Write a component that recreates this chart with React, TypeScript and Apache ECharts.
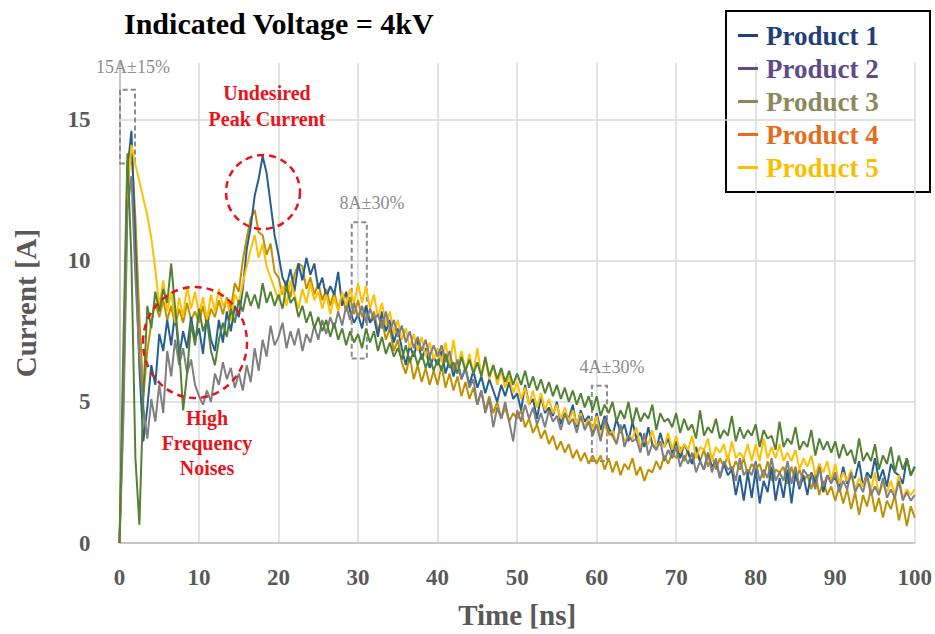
import React, { useEffect, useRef } from "react";
import * as echarts from "echarts";

// Sampling step of the recorded waveforms (ns)
const STEP_NS = 0.5;

const TITLE = "Indicated Voltage = 4kV";
const X_NAME = "Time [ns]";
const Y_NAME = "Current [A]";

const PRODUCTS = ["Product 1", "Product 2", "Product 3", "Product 4", "Product 5"];
const LINE_COLORS = ["#255e91", "#7f7f7f", "#548235", "#bf9000", "#ffc000"];
const LEGEND_COLORS = ["#213f7a", "#5f4b8b", "#8c8a5a", "#e46c1a", "#f5c000"];
const SERIES_Z = [3, 5, 6, 2, 4];

// Current samples [A], one value every STEP_NS from 0 to 100 ns
const PRODUCT_1 = [
  0, 5.5, 13.2, 14.6, 10.5, 6.2, 3.6, 4.8, 6.3, 5.6, 7.4, 6.8, 7.9, 7.0, 8.2, 6.6, 7.5, 6.9, 8.0, 7.2,
  7.6, 6.7, 8.1, 7.2, 6.8, 7.9, 7.1, 8.2, 7.5, 8.4, 8.0, 9.0, 10.4, 11.2, 12.3, 12.9, 13.7, 13.1, 12.0, 10.9,
  10.2, 9.4, 9.1, 9.7, 8.9, 9.9, 9.3, 10.1, 9.5, 9.9, 9.0, 9.4, 8.7, 9.1, 8.8, 9.6, 8.4, 8.9, 8.2, 7.8,
  8.1, 7.6, 8.4, 7.8, 8.0, 7.3, 8.2, 7.5, 7.9, 7.1, 7.6, 6.9, 6.3, 7.0, 6.6, 7.2, 6.5, 6.9, 6.2, 6.6,
  6.3, 6.8, 6.0, 6.5, 5.9, 6.4, 5.8, 6.2, 5.6, 6.1, 5.5, 5.9, 5.3, 5.8, 5.4, 5.0, 5.6, 5.2, 5.7, 5.1,
  5.3, 4.7, 5.6, 4.9, 5.1, 4.4, 5.2, 4.6, 4.8, 4.5, 5.0, 4.2, 4.6, 4.4, 4.9, 4.1, 4.7, 4.3, 4.5, 3.9,
  4.6, 4.0, 4.5, 4.1, 3.8, 4.4, 3.9, 4.2, 3.6, 4.3, 3.7, 3.9, 3.4, 4.1, 3.5, 3.3, 3.9, 3.4, 3.7, 3.2,
  3.6, 3.0, 3.5, 3.2, 2.8, 3.4, 2.9, 2.6, 3.2, 2.7, 2.9, 2.3, 2.8, 2.4, 2.6, 1.7, 2.4, 1.5, 2.5, 1.6,
  2.6, 1.4, 2.2, 1.8, 2.7, 1.5, 2.3, 1.6, 2.6, 1.4, 2.5, 1.9, 2.4, 1.7, 2.5, 2.1, 2.8, 1.8, 2.4, 2.2,
  2.3, 2.0, 2.7, 2.1, 2.4, 2.3, 2.9, 2.0, 2.5, 2.3, 3.0, 2.2, 2.6, 2.0, 2.8, 2.5, 2.4, 2.1, 3.0, 2.4,
  2.7,
];

const PRODUCT_2 = [
  0, 4.5, 11.8, 13.0, 9.4, 6.6, 4.8, 3.7, 5.1, 4.3, 5.6, 4.6, 6.8, 5.9, 7.2, 6.3, 6.9, 6.0, 6.5, 5.6,
  5.2, 4.9, 5.4, 5.0, 6.0, 5.6, 6.4, 5.8, 6.2, 5.5, 6.0, 5.4, 6.3, 5.7, 6.9, 6.1, 7.2, 6.6, 7.7, 7.0,
  7.3, 7.8, 6.9, 7.5, 7.0, 7.6, 6.8, 7.4, 7.1, 7.7, 7.2, 7.9, 7.4, 8.0, 7.6, 8.2, 7.7, 8.4, 7.9, 8.5,
  8.0, 8.4, 7.8, 8.3, 7.9, 8.1, 7.6, 8.2, 7.5, 7.9, 7.3, 7.7, 7.1, 7.5, 6.9, 7.3, 6.8, 7.2, 6.6, 7.0,
  6.6, 7.0, 6.4, 6.8, 6.1, 6.5, 5.8, 6.2, 5.5, 5.8, 4.9, 5.4, 4.6, 5.1, 4.1, 4.8, 4.4, 5.0, 4.3, 3.6,
  4.7, 4.3, 4.9, 4.4, 4.8, 4.2, 4.6, 4.1, 4.7, 4.3, 4.5, 4.0, 4.6, 4.2, 4.4, 3.9, 4.5, 4.0, 4.3, 3.8,
  4.2, 3.6, 4.4, 3.9, 3.8, 3.5, 4.2, 3.4, 3.8, 3.6, 3.7, 3.2, 3.9, 3.1, 3.5, 3.3, 3.6, 2.9, 3.3, 3.0,
  3.4, 2.7, 3.1, 2.8, 3.2, 2.5, 2.9, 2.6, 3.2, 2.5, 3.0, 2.3, 2.9, 2.6, 2.7, 2.2, 3.0, 2.4, 2.6, 2.4,
  2.9, 2.2, 2.6, 2.3, 3.0, 2.2, 2.5, 2.2, 2.9, 2.1, 2.7, 2.0, 2.6, 2.4, 2.4, 1.9, 2.7, 2.0, 2.4, 2.1,
  2.5, 1.8, 2.2, 1.9, 2.5, 1.8, 2.1, 1.8, 2.4, 1.7, 2.0, 1.7, 2.3, 1.6, 1.9, 1.6, 2.2, 1.5, 1.8, 1.5,
  1.7,
];

const PRODUCT_3 = [
  0, 7.2, 13.8, 10.0, 3.0, 0.65, 5.2, 8.4, 7.6, 8.9, 8.2, 9.0, 8.5, 9.9, 8.3, 6.9, 4.7, 6.0, 7.8, 7.0,
  8.3, 7.5, 7.9, 6.8, 6.3, 7.2, 7.8, 7.3, 8.3, 7.8, 8.6, 8.2, 8.9, 8.4, 8.8, 8.3, 9.2, 8.5, 8.9, 8.4,
  8.8, 8.3, 9.1, 8.5, 8.7, 8.0, 8.4, 7.8, 8.2, 7.6, 8.0, 7.5, 7.9, 7.3, 7.8, 7.2, 7.6, 7.0, 7.5, 7.1,
  7.4, 6.9, 7.6, 7.1, 7.5, 6.8, 7.3, 6.7, 7.1, 6.6, 6.9, 6.5, 7.0, 6.4, 6.8, 6.3, 6.7, 6.2, 6.6, 6.1,
  6.5, 6.1, 6.7, 6.2, 6.4, 6.0, 6.6, 6.1, 6.5, 6.0, 6.4, 5.9, 6.6, 5.9, 6.3, 5.8, 6.2, 5.7, 6.1, 5.6,
  6.0, 5.6, 6.1, 5.5, 5.9, 5.4, 5.8, 5.3, 5.7, 5.2, 5.6, 5.1, 5.5, 5.0, 5.4, 4.9, 5.3, 4.8, 5.2, 4.7,
  5.2, 4.5, 4.9, 4.6, 5.0, 4.3, 4.7, 4.4, 5.0, 4.2, 4.8, 4.3, 4.6, 4.4, 4.9, 4.0, 4.6, 4.3, 4.4, 4.1,
  4.6, 3.9, 4.4, 4.0, 4.2, 3.7, 4.7, 3.8, 4.1, 3.9, 4.4, 3.7, 4.0, 3.8, 4.5, 3.6, 4.1, 3.7, 4.0, 3.8,
  4.2, 3.4, 4.0, 3.7, 3.8, 3.3, 4.3, 3.4, 3.7, 3.5, 4.1, 3.3, 3.6, 3.4, 4.0, 3.1, 3.7, 3.3, 3.6, 3.2,
  3.6, 3.0, 3.5, 3.1, 3.3, 2.8, 3.7, 2.9, 3.2, 2.9, 3.5, 2.6, 3.1, 2.8, 3.4, 2.5, 3.1, 2.6, 3.0, 2.4,
  2.7,
];

const PRODUCT_4 = [
  0, 6.0, 13.5, 14.1, 11.5, 8.0, 5.2, 6.8, 7.8, 8.5, 8.0, 8.6, 7.9, 8.4, 7.7, 8.3, 7.8, 8.5, 7.9, 8.2,
  7.8, 8.4, 7.7, 8.3, 8.0, 8.6, 8.1, 8.7, 8.3, 9.2, 8.9, 10.0, 10.8, 11.5, 11.8, 11.0, 10.9, 10.2, 10.6, 9.6,
  9.4, 8.8, 9.3, 8.7, 9.5, 9.9, 9.8, 9.0, 9.4, 8.8, 9.2, 8.6, 9.0, 8.4, 8.9, 8.3, 8.8, 8.2, 8.7, 8.1,
  8.6, 8.0, 8.4, 7.8, 8.2, 7.5, 7.9, 7.2, 7.6, 6.8, 7.2, 6.4, 6.0, 6.6, 5.8, 6.3, 5.7, 6.2, 5.6, 6.1,
  5.6, 6.3, 5.5, 6.0, 5.4, 5.9, 5.2, 5.7, 5.1, 5.5, 4.9, 5.4, 4.7, 5.2, 4.6, 5.0, 4.4, 4.8, 4.3, 4.6,
  4.4, 4.7, 4.1, 4.4, 3.9, 4.2, 3.7, 4.0, 3.5, 3.8, 3.3, 3.6, 3.2, 3.5, 3.0, 3.3, 2.9, 3.2, 2.8, 3.1,
  2.8, 3.1, 2.6, 3.0, 2.5, 2.9, 2.4, 2.8, 2.6, 3.0, 2.4, 2.7, 2.2, 2.6, 2.5, 2.9, 2.6, 3.1, 2.8, 3.2,
  3.0, 3.4, 2.9, 3.3, 2.8, 3.2, 2.9, 3.3, 2.7, 3.1, 2.6, 3.0, 2.7, 3.1, 2.5, 2.9, 2.6, 3.0, 2.4, 2.8,
  2.6, 2.8, 2.3, 2.9, 2.2, 2.6, 2.5, 2.7, 2.1, 2.7, 2.2, 2.6, 2.2, 2.4, 1.9, 2.5, 1.7, 2.2, 1.7, 2.0,
  1.5, 2.0, 1.4, 1.9, 1.2, 1.8, 1.0, 1.7, 1.3, 1.9, 1.1, 1.6, 0.9, 1.5, 1.2, 1.7, 0.8, 1.4, 0.6, 1.3,
  0.9,
];

const PRODUCT_5 = [
  0, 5.0, 12.3, 14.1, 13.4, 12.8, 12.2, 11.6, 10.8, 9.7, 8.4, 9.3, 8.2, 8.9, 7.8, 8.7, 8.0, 9.1, 8.3, 8.9,
  8.1, 8.7, 7.9, 8.8, 8.2, 9.0, 8.4, 8.6, 7.9, 8.8, 8.5, 9.2, 9.8, 10.4, 10.9, 10.1, 10.6, 9.8, 9.4, 9.0,
  8.6, 9.1, 8.4, 9.3, 8.8, 8.3, 9.0, 8.5, 9.2, 8.6, 8.9, 8.3, 8.8, 8.1, 8.7, 8.2, 8.9, 8.4, 9.0, 8.5,
  9.2, 8.5, 9.1, 8.3, 8.8, 8.0, 8.5, 7.7, 8.2, 7.4, 7.9, 7.2, 7.6, 6.9, 7.4, 6.8, 7.3, 6.6, 7.1, 6.5,
  6.9, 6.4, 7.1, 6.3, 7.2, 6.2, 6.8, 6.1, 6.7, 6.0, 6.9, 5.9, 6.5, 5.8, 6.3, 5.6, 6.1, 5.5, 5.9, 5.3,
  5.7, 5.1, 5.5, 4.9, 5.4, 4.8, 5.3, 4.7, 5.1, 4.6, 4.9, 4.4, 4.8, 4.3, 4.7, 4.2, 4.6, 4.1, 4.4, 4.0,
  4.5, 3.7, 4.2, 3.8, 4.0, 3.5, 4.1, 3.6, 3.8, 3.7, 4.1, 3.4, 3.7, 3.5, 4.0, 3.4, 3.6, 3.4, 3.9, 3.3,
  3.8, 3.2, 3.5, 3.3, 3.8, 3.0, 3.4, 3.3, 3.7, 2.9, 3.4, 3.2, 3.5, 2.9, 3.6, 3.0, 3.2, 3.0, 3.5, 2.9,
  3.5, 2.9, 3.7, 3.0, 3.4, 3.0, 3.5, 2.9, 3.2, 2.9, 3.3, 2.6, 3.0, 2.7, 3.1, 2.4, 2.8, 2.5, 2.9, 2.2,
  2.8, 2.1, 2.5, 2.2, 2.6, 1.9, 2.3, 2.0, 2.4, 1.9, 2.5, 1.7, 2.1, 1.8, 2.2, 1.7, 2.4, 1.6, 1.9, 1.7,
  1.9,
];

const SERIES_VALUES = [PRODUCT_1, PRODUCT_2, PRODUCT_3, PRODUCT_4, PRODUCT_5];

// Tolerance windows of the standard: [t0, t1, iLow, iHigh]
const TOLERANCE_WINDOWS = [
  [0.06, 1.95, 13.44, 16.05],
  [29.2, 31.1, 6.53, 11.36],
  [59.4, 61.3, 2.9, 5.57],
];

const FONT = "'Liberation Serif', 'Times New Roman', serif";
const RED = "#e8141c";
const NOTE_GRAY = "#8c8c8c";
const AXIS_TEXT = "#595959";

export default function App() {
  const ref = useRef<HTMLDivElement>(null);

  useEffect(() => {
    document.body.style.margin = "0";
    if (!ref.current) return;
    const chart = echarts.init(ref.current, undefined, { renderer: "svg" });

    const lineSeries = PRODUCTS.map((name, i) => ({
      name,
      type: "line",
      showSymbol: false,
      symbol: "none",
      z: SERIES_Z[i],
      lineStyle: { color: LINE_COLORS[i], width: 2 },
      itemStyle: { color: LINE_COLORS[i] },
      data: SERIES_VALUES[i].map((v, k) => [k * STEP_NS, v]),
    }));

    const toleranceSeries = {
      name: "tolerance",
      type: "line",
      data: [],
      z: 10,
      markArea: {
        silent: true,
        itemStyle: {
          color: "rgba(0,0,0,0)",
          borderColor: NOTE_GRAY,
          borderWidth: 2,
          borderType: [5, 3],
        },
        data: TOLERANCE_WINDOWS.map(([x0, x1, y0, y1]) => [
          { xAxis: x0, yAxis: y0 },
          { xAxis: x1, yAxis: y1 },
        ]),
      },
    };

    const noteText = (text: string, x: number, y: number) => ({
      type: "text",
      x,
      y,
      z: 20,
      style: {
        text,
        fill: NOTE_GRAY,
        fontFamily: FONT,
        fontSize: 18,
        align: "center",
        verticalAlign: "middle",
      },
    });

    const redText = (text: string, x: number, y: number, lineHeight: number) => ({
      type: "text",
      x,
      y,
      z: 20,
      style: {
        text,
        fill: RED,
        fontFamily: FONT,
        fontSize: 20,
        fontWeight: "bold",
        lineHeight,
        align: "center",
        verticalAlign: "middle",
      },
    });

    chart.setOption({
      animation: false,
      backgroundColor: "#ffffff",
      title: {
        text: TITLE,
        left: 124,
        top: 8,
        padding: 0,
        textStyle: { fontFamily: FONT, fontSize: 30, fontWeight: "bold", color: "#000000" },
      },
      legend: {
        orient: "vertical",
        left: 738,
        top: 22,
        padding: 0,
        itemGap: 6,
        itemWidth: 20,
        itemHeight: 3,
        icon: "rect",
        selectedMode: false,
        textStyle: {
          fontFamily: FONT,
          fontSize: 27,
          fontWeight: "bold",
          lineHeight: 27,
          padding: [0, 0, 0, 3],
        },
        data: PRODUCTS.map((name, i) => ({
          name,
          textStyle: { color: LEGEND_COLORS[i] },
          itemStyle: { color: LEGEND_COLORS[i] },
        })),
      },
      grid: { left: 119.5, right: 19.5, top: 63, bottom: 89 },
      xAxis: {
        type: "value",
        min: 0,
        max: 100,
        interval: 10,
        name: X_NAME,
        nameLocation: "middle",
        nameGap: 57,
        nameTextStyle: { fontFamily: FONT, fontSize: 29, fontWeight: "bold", color: AXIS_TEXT },
        axisLine: { lineStyle: { color: "#bfbfbf", width: 1.5 } },
        axisTick: { show: false },
        axisLabel: { margin: 23, fontFamily: FONT, fontSize: 23, fontWeight: "bold", color: AXIS_TEXT },
        splitLine: { show: true, lineStyle: { color: "#d9d9d9", width: 1.5 } },
      },
      yAxis: {
        type: "value",
        min: 0,
        max: 17,
        interval: 5,
        name: Y_NAME,
        nameLocation: "middle",
        nameGap: 79,
        nameTextStyle: { fontFamily: FONT, fontSize: 29, fontWeight: "bold", color: AXIS_TEXT },
        axisLine: { show: true, lineStyle: { color: "#bfbfbf", width: 1.5 } },
        axisTick: { show: false },
        axisLabel: {
          margin: 29,
          showMaxLabel: false,
          fontFamily: FONT,
          fontSize: 23,
          fontWeight: "bold",
          color: AXIS_TEXT,
        },
        splitLine: { show: true, showMaxLine: false, lineStyle: { color: "#d9d9d9", width: 1.5 } },
      },
      series: [...lineSeries, toleranceSeries],
      graphic: [
        {
          type: "rect",
          z: 0,
          shape: { x: 726, y: 11, width: 204, height: 181 },
          style: { fill: "rgba(0,0,0,0)", stroke: "#000000", lineWidth: 2 },
        },
        noteText("15A±15%", 133, 67),
        noteText("8A±30%", 372, 203),
        noteText("4A±30%", 612, 367),
        redText("Undesired\nPeak Current", 267, 106, 26),
        redText("High\nFrequency\nNoises", 207, 443, 25),
        {
          type: "circle",
          z: 20,
          shape: { cx: 263, cy: 192, r: 37 },
          style: { fill: "rgba(0,0,0,0)", stroke: RED, lineWidth: 2.5, lineDash: [7, 5] },
        },
        {
          type: "ellipse",
          z: 20,
          shape: { cx: 195, cy: 342.5, rx: 52, ry: 55.5 },
          style: { fill: "rgba(0,0,0,0)", stroke: RED, lineWidth: 2.5, lineDash: [7, 5] },
        },
      ],
    });

    return () => chart.dispose();
  }, []);

  return <div ref={ref} style={{ width: 935, height: 634 }} />;
}
